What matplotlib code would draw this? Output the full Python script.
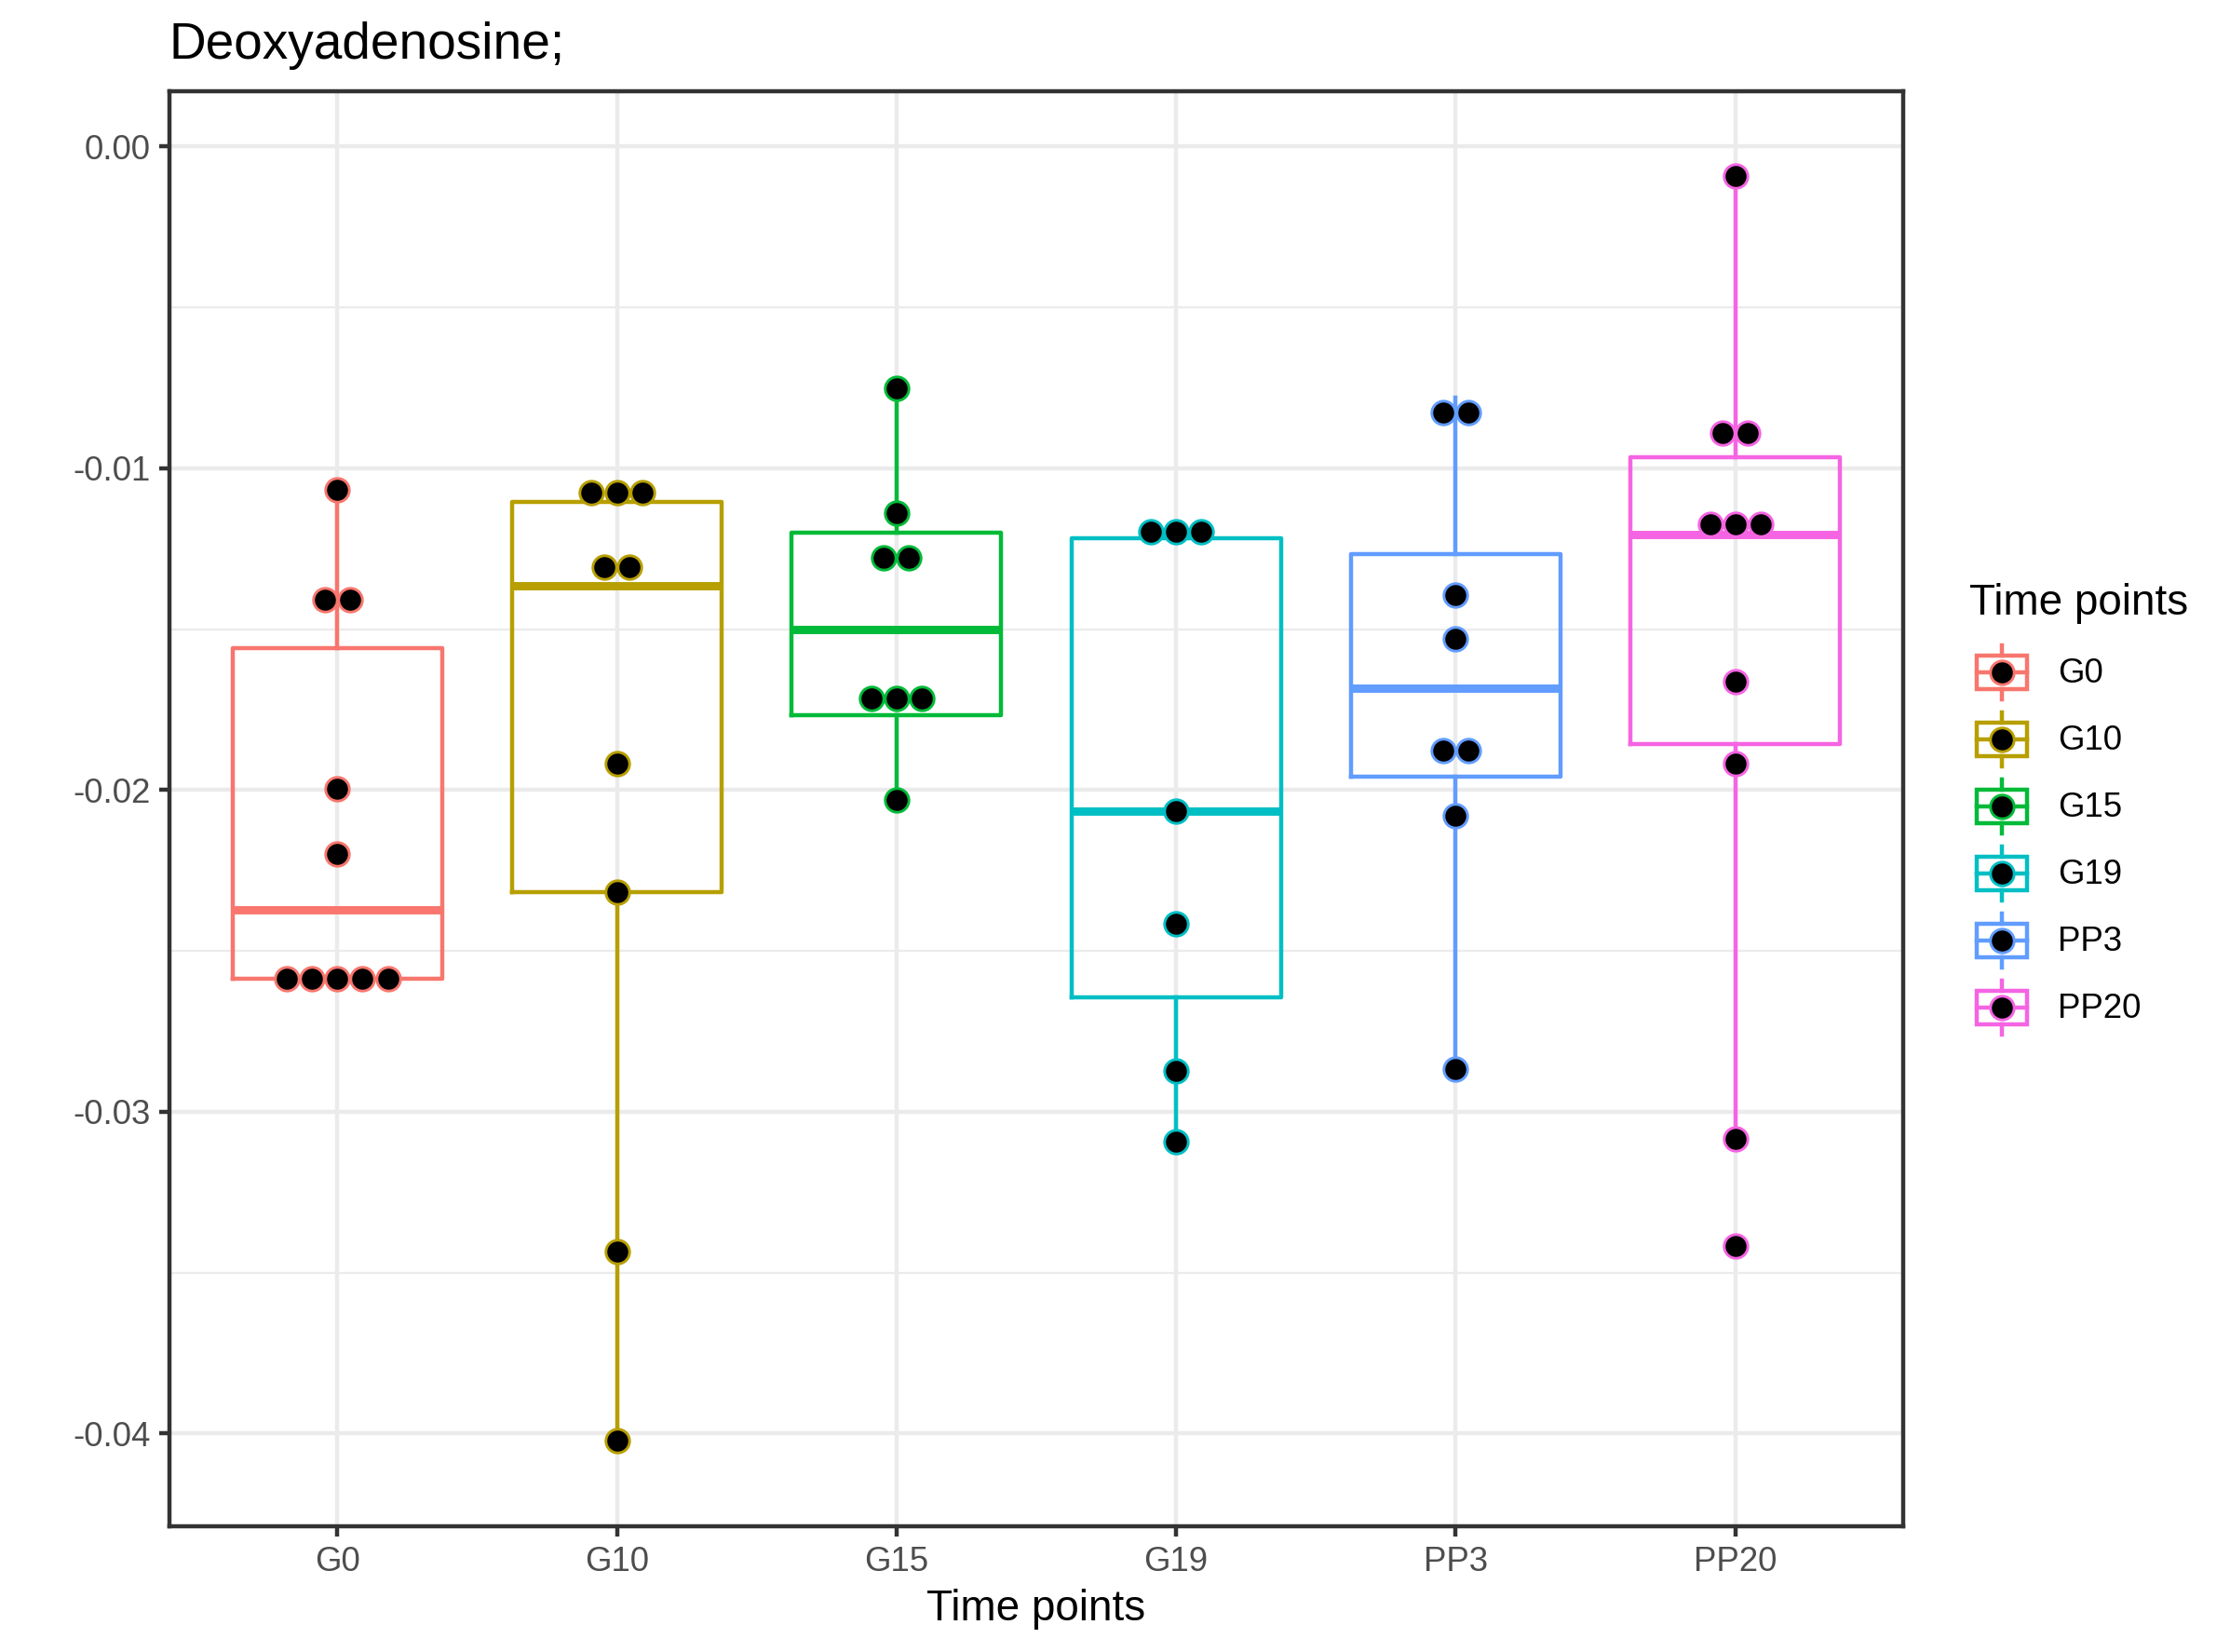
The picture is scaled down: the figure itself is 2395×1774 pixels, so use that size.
import matplotlib
matplotlib.use("Agg")
import matplotlib.pyplot as plt
from matplotlib.lines import Line2D
from matplotlib.patches import Rectangle
from matplotlib.legend_handler import HandlerBase
from collections import Counter

plt.rcParams['font.family'] = ['Liberation Sans', 'DejaVu Sans']

# ---- data ----
groups = ['G0', 'G10', 'G15', 'G19', 'PP3', 'PP20']
colors = ['#F8766D', '#B79F00', '#00BA38', '#00BFC4', '#619CFF', '#F564E3']

# box statistics
whisker_hi = [-0.01067, -0.01076, -0.00751, -0.01196, -0.00780, -0.00091]
q3 = [-0.01560, -0.01103, -0.01199, -0.01216, -0.01265, -0.00964]
medians = [-0.02372, -0.01366, -0.01502, -0.02066, -0.01683, -0.01207]
q1 = [-0.02585, -0.02316, -0.01766, -0.02643, -0.01957, -0.01856]
whisker_lo = [-0.02585, -0.04023, -0.02031, -0.03094, -0.02866, -0.03085]

# dotplot bins (one entry per dot)
dots_G0 = [-0.01067, -0.01408, -0.01408, -0.01997, -0.02197,
           -0.02585, -0.02585, -0.02585, -0.02585, -0.02585]
dots_G10 = [-0.01076, -0.01076, -0.01076, -0.01308, -0.01308,
            -0.01919, -0.02316, -0.03434, -0.04023]
dots_G15 = [-0.00751, -0.01139, -0.01279, -0.01279,
            -0.01716, -0.01716, -0.01716, -0.02031]
dots_G19 = [-0.01196, -0.01196, -0.01196, -0.02066, -0.02415, -0.02872, -0.03094]
dots_PP3 = [-0.00826, -0.00826, -0.01394, -0.01529, -0.01876, -0.01876,
            -0.02079, -0.02866]
dots_PP20 = [-0.00091, -0.00889, -0.00889, -0.01175, -0.01175, -0.01175,
             -0.01663, -0.01919, -0.03085, -0.03417]
all_dots = [dots_G0, dots_G10, dots_G15, dots_G19, dots_PP3, dots_PP20]

y_ticks = [0.0, -0.01, -0.02, -0.03, -0.04]
y_labels = ['0.00', '-0.01', '-0.02', '-0.03', '-0.04']
y_minor = [-0.005, -0.015, -0.025, -0.035]

# ---- style ----
W, H = 2395, 1774
LW = 1.07
dot_step = 0.0907   # horizontal stacking step (x units)
dot_ms = 6.1

fig = plt.figure(figsize=(W / 300, H / 300), dpi=300)
ax = fig.add_axes([182 / W, 1 - 1639 / H, (2044 - 182) / W, (1639 - 98) / H])

pos = list(range(1, len(groups) + 1))
stats = []
for i, g in enumerate(groups):
    stats.append(dict(label=g, whislo=whisker_lo[i], q1=q1[i], med=medians[i],
                      q3=q3[i], whishi=whisker_hi[i]))
bp = ax.bxp(stats, positions=pos, widths=0.75, showfliers=False, showcaps=False,
            boxprops=dict(lw=LW), whiskerprops=dict(lw=LW),
            medianprops=dict(lw=2 * LW, solid_capstyle='butt'))
for i, c in enumerate(colors):
    bp['boxes'][i].set_color(c)
    bp['medians'][i].set_color(c)
    bp['whiskers'][2 * i].set_color(c)
    bp['whiskers'][2 * i + 1].set_color(c)
    for a in [bp['boxes'][i], bp['medians'][i], bp['whiskers'][2 * i], bp['whiskers'][2 * i + 1]]:
        a.set_zorder(2)

# stacked dots
for i, vals in enumerate(all_dots):
    for v, k in Counter(vals).items():
        for j in range(k):
            ax.plot(pos[i] + (j - (k - 1) / 2) * dot_step, v, 'o', ms=dot_ms,
                    mfc='black', mec=colors[i], mew=0.7, zorder=3)

ax.set_xlim(0.4, 6.6)
ax.set_ylim(-0.04288, 0.00172)
ax.set_xticks(pos)
ax.set_xticklabels(groups)
ax.set_yticks(y_ticks)
ax.set_yticklabels(y_labels)
ax.set_yticks(y_minor, minor=True)

ax.set_axisbelow(True)
ax.grid(True, which='major', color='#EBEBEB', lw=LW)
ax.yaxis.grid(True, which='minor', color='#EBEBEB', lw=LW / 2)
ax.tick_params(which='major', length=2.75, width=LW, color='#333333',
               labelsize=8.8, labelcolor='#4D4D4D', pad=2.2)
ax.tick_params(which='minor', length=0)
for s in ax.spines.values():
    s.set_color('#333333')
    s.set_linewidth(LW)

ax.set_title('Deoxyadenosine;', loc='left', fontsize=13.2, pad=8.4)
ax.set_xlabel('Time points', fontsize=11, labelpad=2.75)


# ---- legend (boxplot key + dot) ----
class BoxDotHandler(HandlerBase):
    def create_artists(self, legend, orig_handle, xdescent, ydescent,
                       width, height, fontsize, trans):
        c = orig_handle.get_color()
        x0, y0 = -xdescent, -ydescent
        cx, cy = x0 + width / 2, y0 + height / 2
        box = Rectangle((x0 + 0.125 * width, y0 + 0.25 * height), 0.75 * width,
                        0.5 * height, fill=False, ec=c, lw=LW, transform=trans)
        lo = Line2D([cx, cx], [y0 + 0.1 * height, y0 + 0.25 * height], color=c,
                    lw=LW, transform=trans)
        hi = Line2D([cx, cx], [y0 + 0.75 * height, y0 + 0.9 * height], color=c,
                    lw=LW, transform=trans)
        med = Line2D([x0 + 0.125 * width, x0 + 0.875 * width], [cy, cy], color=c,
                     lw=LW, transform=trans)
        dot = Line2D([cx], [cy], marker='o', ms=dot_ms, mfc='black', mec=c,
                     mew=0.7, transform=trans)
        return [box, lo, hi, med, dot]


# key is 17.28pt square; matplotlib row height = fs*(0.65*h + 0.245)
key_h = (17.28 / 8.8 - 0.245) / 0.65
handles = [Line2D([], [], color=c) for c in colors]
fig.legend(handles, groups, handler_map={Line2D: BoxDotHandler()},
           loc='upper left', bbox_to_anchor=(2114 / W, 1 - 686 / H),
           frameon=False, fontsize=8.8, handlelength=17.28 / 8.8,
           handleheight=key_h, labelspacing=0, handletextpad=0.65,
           borderpad=0, borderaxespad=0)
fig.text(2115 / W, 1 - 660 / H, 'Time points', fontsize=11, ha='left', va='baseline')

fig.savefig('out.png', dpi=300)
